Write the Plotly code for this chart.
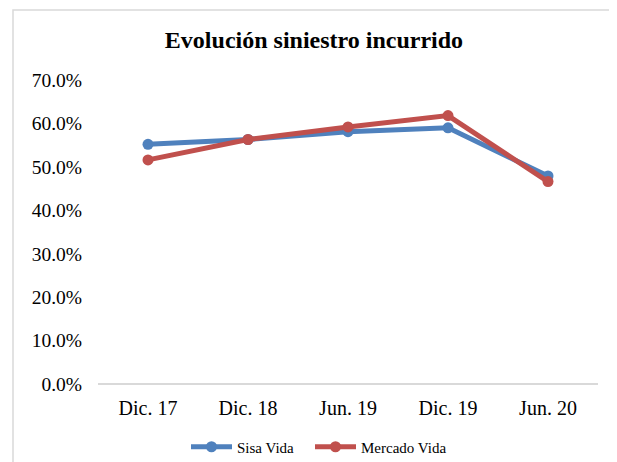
import plotly.graph_objects as go

categories = ["Dic. 17", "Dic. 18", "Jun. 19", "Dic. 19", "Jun. 20"]
sisa_vida = [0.552, 0.563, 0.581, 0.590, 0.479]
mercado_vida = [0.516, 0.563, 0.592, 0.618, 0.466]
y_ticks = [0, 0.1, 0.2, 0.3, 0.4, 0.5, 0.6, 0.7]

font_family = "Liberation Serif, Times New Roman, serif"
W, H = 617, 462
OFF = 8  # page body margin offset
NBSP = "\u00a0"

fig = go.Figure()
fig.add_trace(go.Scatter(x=categories, y=sisa_vida, name="Sisa Vida" + NBSP * 3, mode="lines+markers",
                         line=dict(color="#4F81BD", width=5), marker=dict(size=11, color="#4F81BD")))
fig.add_trace(go.Scatter(x=categories, y=mercado_vida, name="Mercado Vida", mode="lines+markers",
                         line=dict(color="#C0504D", width=5), marker=dict(size=11, color="#C0504D")))

fig.update_layout(
    width=W, height=H,
    margin=dict(l=98 - OFF, r=W - 598 + OFF, t=80 - OFF, b=H - 384 + OFF, autoexpand=False),
    paper_bgcolor="white", plot_bgcolor="white",
    font=dict(family=font_family, color="#000000"),
    title=dict(text="<b>Evolución siniestro incurrido</b>", x=(314 - OFF) / W, xanchor="center",
               xref="container", yref="container",
               y=1 - (40 - OFF) / H, yanchor="middle", font=dict(size=24, family=font_family)),
    showlegend=True,
    legend=dict(orientation="h", x=(191 - OFF - 5) / W, xanchor="left", xref="container",
                yref="container", y=1 - (447 - OFF) / H, yanchor="middle",
                itemwidth=41,
                font=dict(size=15, family=font_family), tracegroupgap=0),
    xaxis=dict(showgrid=False, zeroline=False, showline=False, ticks="", automargin=False,
               range=[-0.5, 4.5],
               tickfont=dict(size=20, family=font_family), ticklabelstandoff=10),
    yaxis=dict(range=[0, 0.7], tickvals=y_ticks, tickformat=".1%", showgrid=False,
               automargin=False,
               zeroline=True, zerolinecolor="#D9D9D9", zerolinewidth=1.5, showline=False,
               tickfont=dict(size=19.5, family=font_family), ticklabelstandoff=15),
    shapes=[dict(type="rect", xref="paper", yref="paper", x0=-0.17, x1=1.024, y0=-0.28, y1=1.23,
                 line=dict(color="#D9D9D9", width=1.5), fillcolor="rgba(0,0,0,0)", layer="below")],
)

fig.write_html("out.html")
